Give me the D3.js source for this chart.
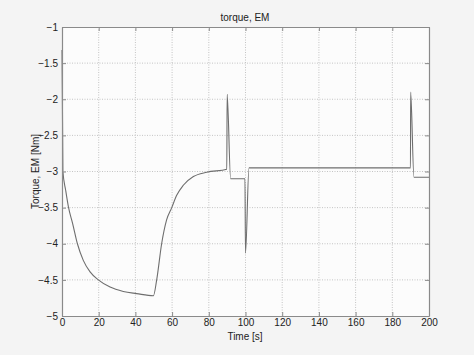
<!DOCTYPE html>
<html><head><meta charset="utf-8">
<script src="https://cdn.jsdelivr.net/npm/d3@7"></script>
<style>
body{margin:0;background:#f4f4f4;}
svg{display:block;}
text{font-family:"Liberation Sans",Arial,sans-serif;fill:#222;}
</style></head>
<body>
<svg id="c" width="474" height="355"></svg>
<script>
const times  = [0, 0.5, 2, 3.5, 5.8, 8.4, 11.6, 15.3, 19.8, 26.2, 33.4, 40.7, 49.8, 51.6, 54.3, 57, 59.8, 62.5, 66.1, 71.6, 78.9, 89.8, 90, 91.9, 99.7, 100, 101.9, 189.9, 190, 191.8, 200];
const torque = [-1.32, -3.0, -3.26, -3.49, -3.72, -4.0, -4.23, -4.39, -4.5, -4.6, -4.66, -4.69, -4.72, -4.5, -4.0, -3.67, -3.5, -3.33, -3.19, -3.07, -3.01, -2.97, -1.93, -3.1, -3.1, -4.13, -2.95, -2.95, -1.9, -3.08, -3.08];
const xTicks = [0, 20, 40, 60, 80, 100, 120, 140, 160, 180, 200];
const yTicks = [-5, -4.5, -4, -3.5, -3, -2.5, -2, -1.5, -1];
const title = "torque, EM";
const xLabel = "Time [s]";
const yLabel = "Torque, EM [Nm]";

const svg = d3.select("#c");
const L = 62, R = 429, T = 27, B = 316;
const x = d3.scaleLinear().domain([0, 200]).range([L, R]);
const y = d3.scaleLinear().domain([-5, -1]).range([B, T]);

svg.append("rect").attr("x", L).attr("y", T).attr("width", R - L).attr("height", B - T).attr("fill", "#fcfcfc");

// grid
const g = svg.append("g");
g.selectAll(".vx").data(xTicks.slice(1, -1)).enter().append("line")
  .attr("x1", d => x(d)).attr("x2", d => x(d)).attr("y1", T).attr("y2", B)
  .attr("stroke", "#c4c4c4").attr("stroke-width", 1).attr("stroke-dasharray", "1,1.5");
g.selectAll(".hy").data(yTicks.slice(1, -1)).enter().append("line")
  .attr("y1", d => y(d)).attr("y2", d => y(d)).attr("x1", L).attr("x2", R)
  .attr("stroke", "#c4c4c4").attr("stroke-width", 1).attr("stroke-dasharray", "1,1.5");

// data line
const data = times.map((t, i) => [t, torque[i]]);
svg.append("path").datum(data)
  .attr("d", d3.line().curve(d3.curveMonotoneX).x(d => x(d[0])).y(d => y(d[1])))
  .attr("fill", "none").attr("stroke", "#6e6e6e").attr("stroke-width", 1.1);

// axes
const axB = svg.append("g").attr("transform", `translate(0,${B})`)
  .call(d3.axisBottom(x).tickValues(xTicks).tickSizeInner(-4).tickSizeOuter(0).tickPadding(3));
const axT = svg.append("g").attr("transform", `translate(0,${T})`)
  .call(d3.axisTop(x).tickValues(xTicks).tickSizeInner(-4).tickSizeOuter(0).tickFormat(""));
const axL = svg.append("g").attr("transform", `translate(${L},0)`)
  .call(d3.axisLeft(y).tickValues(yTicks).tickSizeInner(-4).tickSizeOuter(0).tickPadding(4).tickFormat(d3.format("")));
const axR = svg.append("g").attr("transform", `translate(${R},0)`)
  .call(d3.axisRight(y).tickValues(yTicks).tickSizeInner(-4).tickSizeOuter(0).tickFormat(""));
[axB, axT, axL, axR].forEach(a => {
  a.selectAll("path").attr("stroke", "#8a8a8a").attr("stroke-width", 1.2);
  a.selectAll("line").attr("stroke", "#8a8a8a");
  a.selectAll("text").attr("font-size", 10).attr("fill", "#222").attr("font-family", "Liberation Sans, Arial, sans-serif");
});

svg.append("text").attr("x", 245).attr("y", 21).attr("text-anchor", "middle").attr("font-size", 10).text(title);
svg.append("text").attr("x", 245).attr("y", 340).attr("text-anchor", "middle").attr("font-size", 10).text(xLabel);
svg.append("text").attr("transform", `translate(39,${(T + B) / 2}) rotate(-90)`).attr("text-anchor", "middle").attr("font-size", 10).text(yLabel);
</script>
</body></html>
